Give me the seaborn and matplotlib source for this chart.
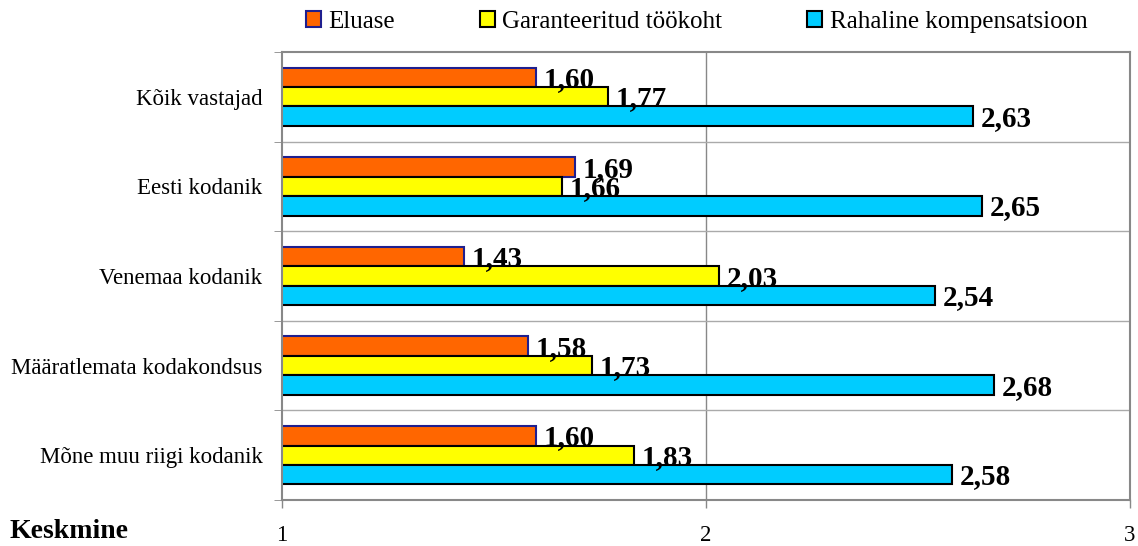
import matplotlib
matplotlib.use("Agg")
import matplotlib.pyplot as plt
import seaborn as sns
import pandas as pd
from matplotlib.patches import Patch

categories = ["Kõik vastajad", "Eesti kodanik", "Venemaa kodanik",
              "Määratlemata kodakondsus", "Mõne muu riigi kodanik"]
series = ["Eluase", "Garanteeritud töökoht", "Rahaline kompensatsioon"]
eluase = [1.60, 1.69, 1.43, 1.58, 1.60]
tookoht = [1.77, 1.66, 2.03, 1.73, 1.83]
kompensatsioon = [2.63, 2.65, 2.54, 2.68, 2.58]
x_ticks = [1, 2, 3]

colors = ["#FF6600", "#FFFF00", "#00CCFF"]
edges = ["#1F1F8F", "black", "black"]

rows = []
for s, vals in zip(series, [eluase, tookoht, kompensatsioon]):
    for c, v in zip(categories, vals):
        rows.append({"cat": c, "series": s, "value": v})
df = pd.DataFrame(rows)

sns.set_style("white")
plt.rcParams["font.family"] = ["Liberation Serif", "DejaVu Serif"]
plt.rcParams["text.color"] = "black"
plt.rcParams["axes.labelcolor"] = "black"

fig = plt.figure(figsize=(11.38, 5.46), dpi=100)
ax = fig.add_axes([0.2478, 0.0842, 0.7452, 0.8206])

sns.barplot(data=df, y="cat", x="value", hue="series", orient="h",
            order=categories, hue_order=series, palette=colors,
            width=0.65, gap=0, legend=False, ax=ax, errorbar=None,
            linewidth=1.5, saturation=1)

for cont, ec in zip(ax.containers, edges):
    for bar in cont:
        bar.set_edgecolor(ec)
        bar.set_linewidth(1.5)
    for bar in cont:
        w = bar.get_width()
        y = bar.get_y() + bar.get_height()
        ax.text(w + 0.018, y, f"{w:.2f}".replace(".", ","),
                ha="left", va="baseline", fontsize=21, fontweight="bold",
                color="black", clip_on=False)

ax.set_xlim(1, 3)
ax.set_ylim(len(categories) - 0.5, -0.5)
ax.set_xticks(x_ticks)
ax.set_xticklabels([str(t) for t in x_ticks])
ax.tick_params(axis="x", which="major", pad=12, length=6, width=1, color="#888888",
               labelcolor="black", labelsize=16, direction="out", bottom=True)
ax.set_xlabel("")
ax.set_ylabel("")

for xv in [2, 3]:
    ax.axvline(xv, color="#888888", linewidth=1, zorder=0)
for b in [i + 0.5 for i in range(len(categories) - 1)]:
    ax.axhline(b, color="#AAAAAA", linewidth=1, zorder=0)
ax.set_yticks(range(len(categories)), minor=False)
ax.set_yticks([i - 0.5 for i in range(len(categories) + 1)], minor=True)
ax.tick_params(axis="y", which="major", length=0, labelsize=16.5, pad=14,
               labelcolor="black")
ax.tick_params(axis="y", which="minor", length=6, color="#888888",
               direction="out", left=True)
for lbl in ax.get_xticklabels():
    lbl.set_fontsize(16.5)

for sp in ax.spines.values():
    sp.set_visible(True)
    sp.set_color("#888888")
    sp.set_linewidth(1.5)

fig.text(0.008, 0.026, "Keskmine", fontsize=20, fontweight="bold",
         ha="left", va="center", color="black")

handles = [Patch(facecolor=c, edgecolor=e, linewidth=1.5) for c, e in zip(colors, edges)]
fig.legend(handles, series, loc="center", bbox_to_anchor=(0.612, 0.960), ncol=3,
           frameon=False, fontsize=18, handlelength=0.6, handleheight=0.6,
           handletextpad=0.3, columnspacing=3.4, borderpad=0)

fig.savefig("out.png", dpi=100)
